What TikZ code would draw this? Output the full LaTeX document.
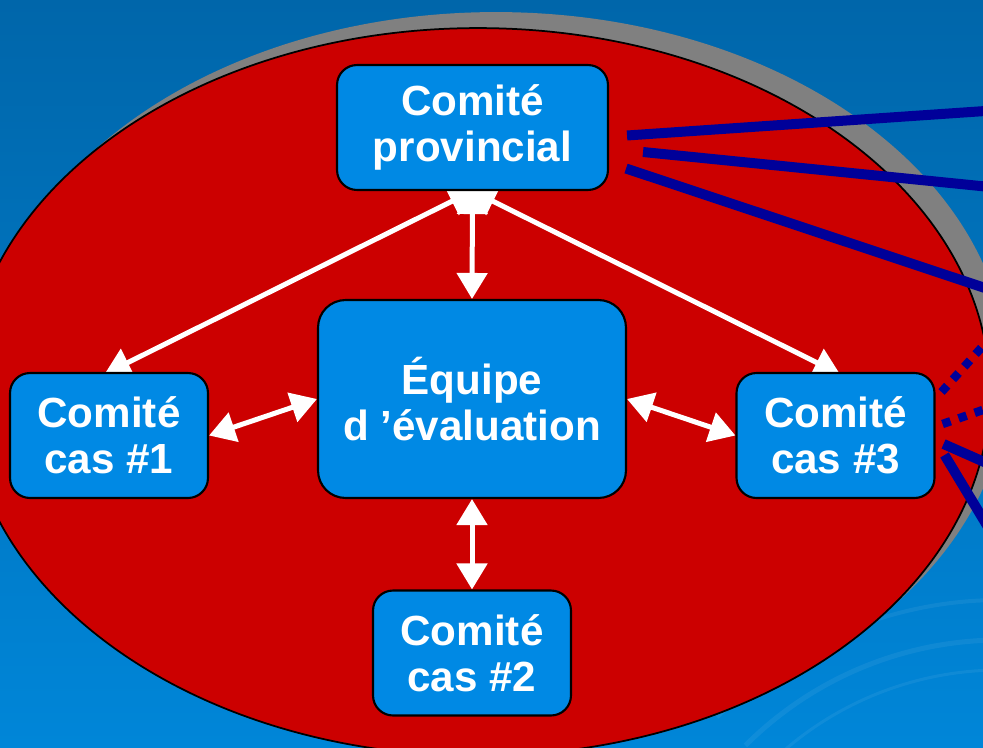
\documentclass[tikz,border=0pt]{standalone}
\usepackage{fontspec}
\setmainfont{Liberation Sans}
\usetikzlibrary{arrows.meta}
\definecolor{fondhaut}{RGB}{0,102,170}
\definecolor{fondbas}{RGB}{0,134,216}
\definecolor{rouge}{RGB}{204,0,0}
\definecolor{bleubox}{RGB}{0,137,228}
\definecolor{marine}{RGB}{0,0,153}
\pgfdeclarelayer{fond}
\pgfdeclarelayer{traits}
\pgfsetlayers{fond,traits,main}
\tikzset{
  comite/.style={draw=black, line width=1.2pt, fill=bleubox, rounded corners=0.4cm,
    text=white, font=\fontsize{24}{26}\selectfont\bfseries, align=center,
    minimum width=3.96cm, minimum height=2.5cm, inner sep=0pt},
  fleche/.style={draw=white, line width=0.1cm,
    {Triangle[length=0.52cm,width=0.6cm]}-{Triangle[length=0.52cm,width=0.6cm]}},
  lien/.style={draw=marine, line width=0.2cm},
  lienpoint/.style={draw=marine, line width=0.17cm, dash pattern=on 0.17cm off 0.17cm}
}
\begin{document}
\begin{tikzpicture}[x=0.02cm, y=-0.02cm]
  \useasboundingbox (0,0) rectangle (983,747);
  \clip (0,0) rectangle (983,747);

  \node[comite, minimum width=5.42cm] (prov) at (472.5,127.5) {Comité\\provincial};
  \node[comite, minimum width=6.16cm, minimum height=3.96cm, rounded corners=0.55cm] (equipe) at (472,399) {Équipe\\d ’évaluation};
  \node[comite] (cas1) at (109,435.5) {Comité\\cas \#1};
  \node[comite] (cas3) at (835.5,435.5) {Comité\\cas \#3};
  \node[comite] (cas2) at (472,653) {Comité\\cas \#2};

  \begin{pgfonlayer}{fond}
    \shade[top color=fondhaut, bottom color=fondbas] (0,0) rectangle (983,747);
    % faint swirls of the slide background
    \foreach \r/\w in {330/0.06, 360/0.1, 400/0.08}{
      \draw[white, opacity=0.06, line width=\w cm] (1000,1000) ++(225:\r) arc (225:290:\r);
    }
    % the round
    \fill[gray] (496,376) ellipse [x radius=10.24cm, y radius=7.28cm];
    \filldraw[fill=rouge, draw=black, line width=0.035cm] (478,392) ellipse [x radius=10.24cm, y radius=7.28cm];
  \end{pgfonlayer}

  \begin{pgfonlayer}{traits}
    % lines to the outside
    \coordinate (o1) at (1000,110);
    \coordinate (o2) at (1000,188);
    \coordinate (o3) at (1000,293);
    \coordinate (o4) at (1000,327);
    \coordinate (o5) at (1000,404);
    \coordinate (o6) at (1000,469);
    \coordinate (o7) at (1000,547);
    \foreach \s/\o in {{(18,8)}/o1, {(34,24.5)}/o2, {(17,41)}/o3}{
      \draw[lien] ([shift=\s]prov.east) -- (\o);
    }
    \foreach \s/\o in {{(6,-43.5)}/o4, {(7,-11.5)}/o5}{
      \draw[lienpoint] ([shift=\s]cas3.east) -- (\o);
    }
    \foreach \s/\o in {{(8,8.5)}/o6, {(9,19.5)}/o7}{
      \draw[lien] ([shift=\s]cas3.east) -- (\o);
    }

    % arrows
    \foreach \t in {cas1, cas3}{
      \draw[fleche, shorten <=-0.06cm, shorten >=-0.1cm] (prov.south) -- (\t.north);
    }
    \draw[fleche, shorten <=-0.06cm] (prov.south) -- (equipe.north);
    \foreach \a/\b in {equipe.west/cas1.east, equipe.east/cas3.west, equipe.south/cas2.north}{
      \draw[fleche] (\a) -- (\b);
    }
  \end{pgfonlayer}
\end{tikzpicture}
\end{document}
